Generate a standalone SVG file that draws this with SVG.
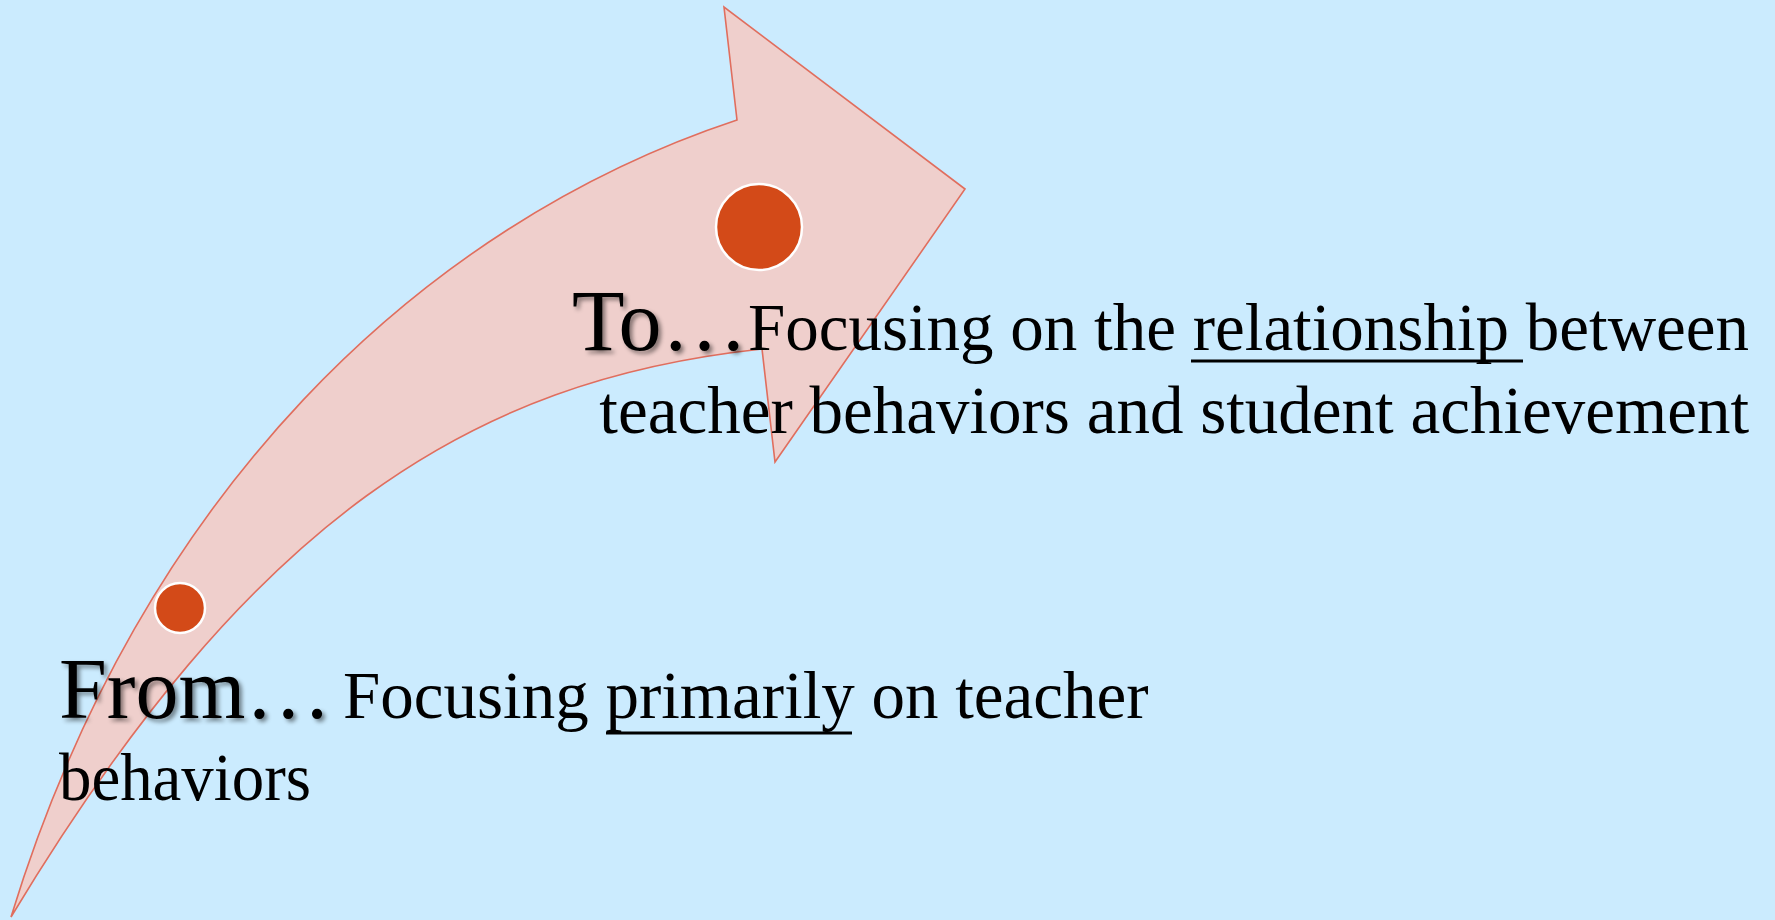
<svg xmlns="http://www.w3.org/2000/svg" width="1775" height="920" viewBox="0 0 1775 920">
  <defs>
    <filter id="soft-shadow" x="-10%" y="-20%" width="130%" height="150%">
      <feDropShadow dx="3" dy="3" stdDeviation="2" flood-color="#000" flood-opacity="0.45"/>
    </filter>
  </defs>
  <style>
    .bg { fill: #CBEBFE; }
    .arrow { fill: #EFCFCC; stroke: #E06E5E; stroke-width: 1.6; stroke-linejoin: miter; }
    .dot { fill: #D34A18; stroke: #FFFFFF; stroke-width: 2.5; }
    .lead { font-family: "Liberation Serif", "Times New Roman", serif; font-size: 86px; fill: #000; filter: url(#soft-shadow); }
    .body { font-family: "Liberation Serif", "Times New Roman", serif; font-size: 67px; fill: #000; }
    .ul { stroke: #000; stroke-width: 3; }
  </style>

  <rect class="bg" x="0" y="0" width="1775" height="920"/>

  <!-- curved block arrow sweeping up to the right -->
  <g id="arrow">
    <path class="arrow" d="M 11,917 C 140,495 420,225 737,120 L 724,7 L 965,189 L 775,462 L 762,349 C 470,380 250,520 11,917 Z"/>
  </g>

  <g id="dot-start">
    <circle class="dot" cx="180" cy="608" r="25"/>
  </g>
  <g id="dot-end">
    <circle class="dot" cx="759" cy="227" r="43"/>
  </g>

  <!-- target statement -->
  <g id="label-to">
    <text class="lead" x="572" y="350">To…</text>
    <text class="body" x="1749" y="350" text-anchor="end">Focusing on the relationship between</text>
    <line class="ul" x1="1191" y1="361" x2="1523" y2="361"/>
    <text class="body" x="1749" y="433" text-anchor="end">teacher behaviors and student achievement</text>
  </g>

  <!-- starting statement -->
  <g id="label-from">
    <text class="lead" x="59" y="718">From…</text>
    <text class="body" x="343" y="718">Focusing primarily on teacher</text>
    <line class="ul" x1="606" y1="733" x2="852" y2="733"/>
    <text class="body" x="59" y="800" textLength="252" lengthAdjust="spacingAndGlyphs">behaviors</text>
  </g>
</svg>
